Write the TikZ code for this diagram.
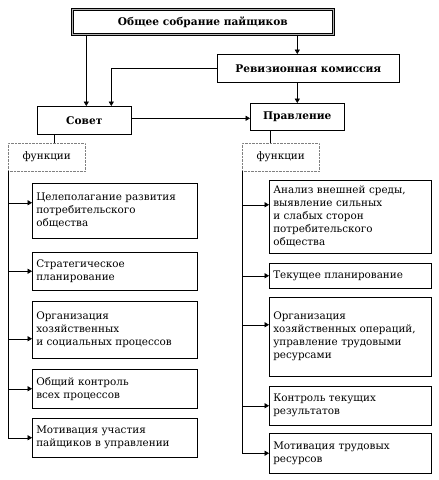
\documentclass[tikz,border=0pt]{standalone}
\usepackage{fontspec}
\setmainfont{DejaVu Serif}
\usetikzlibrary{arrows.meta}
\usetikzlibrary{positioning}

\begin{document}
\begin{tikzpicture}[x=1pt,y=-1pt]
  \tikzset{myedge/.style={->, >={Triangle[angle=60:5pt]}, line width=0.5pt}};
  \tikzset{headbox/.style={draw, line width=0.6pt, anchor=north west, inner sep=0pt, font=\bfseries\fontsize{10.6}{12}\selectfont}};
  \tikzset{funcbox/.style={draw=gray, densely dotted, anchor=north west, inner sep=0pt, minimum width=77pt, minimum height=28pt, font=\fontsize{10.4}{12}\selectfont}};
  \tikzset{itembox/.style={draw, line width=0.5pt, anchor=north west, align=left, inner xsep=4pt, inner ysep=0pt, font=\fontsize{10.4}{13}\selectfont}};
  \useasboundingbox (0,0) rectangle (439,480);

  \node[headbox, line width=0.7pt, double=gray!60, double distance=1.6pt, minimum width=261pt, minimum height=25pt] (obs) at (72,9) {Общее собрание пайщиков};
  \node[headbox, minimum width=182pt, minimum height=28pt] (rev) at (217,54) {Ревизионная комиссия};
  \node[headbox, minimum width=94pt, minimum height=28pt] (sovet) at (37,106) {Совет};
  \node[headbox, minimum width=94pt, minimum height=27pt] (prav) at (250,103) {Правление};

  \node[funcbox] (fsov) at (8,143) {функции};
  \node[funcbox] (fprav) at (242,143) {функции};

  \node[itembox, text width=157pt, minimum height=55pt] (s1) at (32,183) {Целеполагание развития\\потребительского\\общества};
  \node[itembox, text width=157pt, minimum height=38pt] (s2) at (32,252) {Стратегическое\\планирование};
  \node[itembox, text width=157pt, minimum height=57pt] (s3) at (32,301) {Организация\\хозяйственных\\и социальных процессов};
  \node[itembox, text width=157pt, minimum height=39pt] (s4) at (32,369) {Общий контроль\\всех процессов};
  \node[itembox, text width=157pt, minimum height=39pt] (s5) at (32,418) {Мотивация участия\\пайщиков в управлении};

  \node[itembox, text width=154pt, minimum height=73pt] (p1) at (269,180) {Анализ внешней среды,\\выявление сильных\\и слабых сторон\\потребительского\\общества};
  \node[itembox, text width=154pt, minimum height=25pt] (p2) at (269,263) {Текущее планирование};
  \node[itembox, text width=154pt, minimum height=79pt] (p3) at (269,297) {Организация\\хозяйственных операций,\\управление трудовыми\\ресурсами};
  \node[itembox, text width=154pt, minimum height=39pt] (p4) at (269,386) {Контроль текущих\\результатов};
  \node[itembox, text width=154pt, minimum height=40pt] (p5) at (269,433) {Мотивация трудовых\\ресурсов};

  \coordinate (sovin) at ([xshift=27pt]sovet.north);
  \coordinate (sovr) at ([yshift=2pt]sovet.east);
  \coordinate (sovd) at ([xshift=-30pt]sovet.south);
  \coordinate (pravd) at ([xshift=-27pt]prav.south);

  \draw [myedge] ([xshift=2pt]sovet.north |- obs.south) -- ([xshift=2pt]sovet.north);
  \draw [myedge] (prav.north |- obs.south) -- (prav.north |- rev.north);
  \draw [myedge] (prav.north |- rev.south) -- (prav.north);
  \draw [myedge] (rev.west) -| (sovin);
  \draw [myedge] (sovr) -- (sovr -| prav.west);

  \draw [line width=0.5pt] (sovd) -- (sovd |- fsov.north);
  \draw [line width=0.5pt] (pravd) -- (pravd |- fprav.north);

  \draw [line width=0.5pt] (fsov.south west) -- (fsov.south west |- s5.west);
  \draw [myedge] ([yshift=8pt]s1.west -| fsov.west) -- ([yshift=8pt]s1.west);
  \draw [myedge] (s2.west -| fsov.west) -- (s2.west);
  \draw [myedge] ([yshift=-9pt]s3.west -| fsov.west) -- ([yshift=-9pt]s3.west);
  \draw [myedge] (s4.west -| fsov.west) -- (s4.west);
  \draw [myedge] (s5.west -| fsov.west) -- (s5.west);

  \draw [line width=0.5pt] (fprav.south west) -- (fprav.south west |- p5.west);
  \draw [myedge] ([yshift=12pt]p1.west -| fprav.west) -- ([yshift=12pt]p1.west);
  \draw [myedge] (p2.west -| fprav.west) -- (p2.west);
  \draw [myedge] ([yshift=12pt]p3.west -| fprav.west) -- ([yshift=12pt]p3.west);
  \draw [myedge] (p4.west -| fprav.west) -- (p4.west);
  \draw [myedge] (p5.west -| fprav.west) -- (p5.west);
\end{tikzpicture}
\end{document}
